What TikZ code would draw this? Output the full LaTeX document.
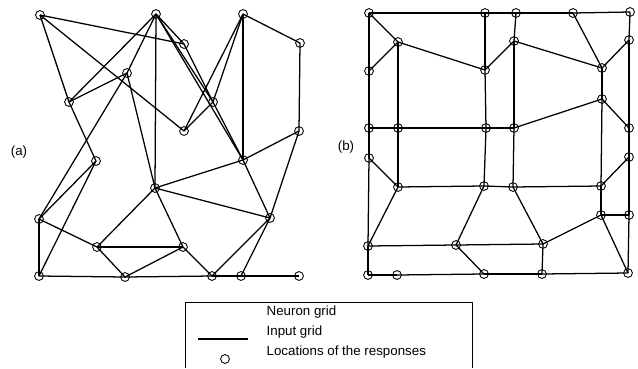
\documentclass[tikz,border=0pt]{standalone}
\usepackage{fontspec}
\setmainfont{Liberation Sans}
\usetikzlibrary{positioning}

\begin{document}
\begin{tikzpicture}[x=0.75pt,y=-0.75pt,line width=0.95pt]
  \tikzset{
    resp/.style={draw,circle,inner sep=0pt,minimum size=6.6pt,line width=0.65pt},
    lab/.style={font=\fontsize{10}{12}\selectfont,inner sep=0pt}
  }
  \useasboundingbox (0,0) rectangle (638,368);
  % (a): responses on the input grid
  \foreach \n/\x/\y in {a1/40/15,a2/156/14,a3/243/14,a4/184/44,a5/300/43,
      a6/127/73,a7/69/102,a8/213/102,a9/184/131,a10/299/131,a11/96/161,
      a12/243/160,a13/155/188,a14/39/219,a15/270/218,a16/97/247,a17/183/247,
      a18/39/276,a19/125/277,a20/212/276,a21/241/276,a22/299/276}
    \node[resp] (\n) at (\x,\y) {};
  \foreach \p/\q in {a1/a4,a1/a9,a1/a7,a7/a11,a2/a7,a2/a6,a6/a7,a6/a14,
      a6/a13,a2/a13,a2/a4,a2/a8,a2/a12,a4/a8,a8/a12,a3/a5,a3/a12,a3/a9,
      a3/a8,a9/a8,a5/a10,a10/a12,a10/a15,a12/a13,a12/a15,a13/a15,a13/a16,
      a13/a17,a11/a14,a11/a18,a14/a16,a14/a18,a16/a17,a16/a19,a19/a17,
      a17/a20,a20/a15,a21/a15,a18/a19,a19/a20,a20/a21,a21/a22}
    \draw (\p.center) -- (\q.center);
  \node[lab] (la) at (19,152) {(a)};
  % (b): responses on the neuron grid
  \foreach \n/\x/\y in {b1/369/13,b2/485/13,b3/516/13,b4/573/13,b5/630/12,
      b6/398/42,b7/514/41,b8/629/40,b9/369/71,b10/485/70,b11/602/68,
      b12/602/99,b13/369/128,b14/398/128,b15/486/128,b16/514/128,b17/629/128,
      b18/369/158,b19/629/157,b20/398/187,b21/484/186,b22/513/187,b23/601/186,
      b24/601/215,b25/629/215,b26/368/246,b27/456/245,b28/543/244,
      b29/368/275,b30/397/275,b31/484/274,b32/542/274,b33/628/273}
    \node[resp] (\n) at (\x,\y) {};
  \foreach \p/\q in {b1/b2,b2/b3,b3/b4,b4/b5,b1/b6,b1/b9,b9/b13,b13/b18,
      b18/b26,b26/b29,b6/b9,b6/b10,b6/b14,b14/b20,b2/b10,b10/b15,b15/b21,
      b10/b7,b3/b7,b7/b16,b16/b22,b7/b11,b4/b11,b11/b8,b5/b8,b8/b17,
      b17/b19,b19/b25,b25/b33,b11/b12,b12/b23,b23/b24,b12/b17,b12/b16,
      b13/b14,b14/b15,b15/b16,b18/b20,b20/b21,b21/b22,b22/b23,b23/b19,
      b20/b26,b21/b27,b22/b28,b24/b25,b24/b28,b24/b33,b26/b27,b27/b28,
      b27/b31,b28/b32,b29/b30,b30/b31,b31/b32,b32/b33}
    \draw (\p.center) -- (\q.center);
  \node[lab] (lb) at (346,147) {(b)};
  % legend
  \draw[line width=0.6pt] (185,368) -- (185,302) -- (472,302) -- (472,368);
  \node[lab,anchor=west] (neuron) at (266,312) {Neuron grid};
  \node[lab,below=15pt of neuron.west,anchor=west] (input) {Input grid};
  \node[lab,below=15pt of input.west,anchor=west] (locs) {Locations of the responses};
  \coordinate (ls) at (198,339);
  \coordinate (le) at (248,339);
  \draw (ls) -- (le);
  \node[resp] (ko) at (225,359) {};
\end{tikzpicture}
\end{document}
